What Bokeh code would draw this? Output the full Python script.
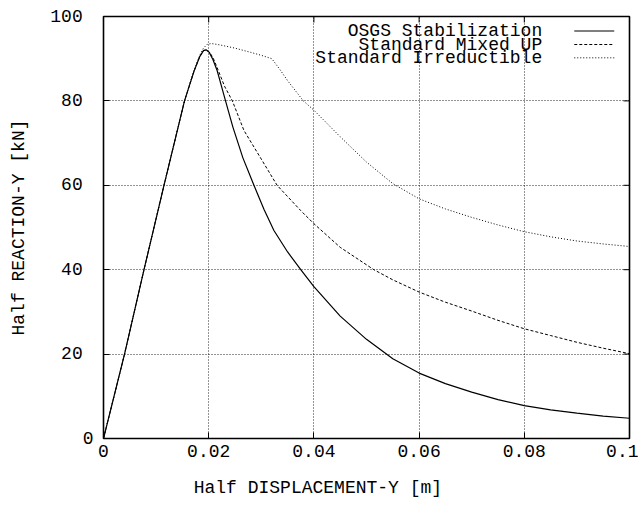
from bokeh.plotting import figure
from bokeh.models import FixedTicker, Label, Range1d
from bokeh.embed import file_html
from bokeh.resources import INLINE

# ---- data ----
osgs_x = [0, 0.004, 0.0077, 0.0115, 0.0154, 0.0172, 0.0183, 0.0190, 0.0195, 0.0201,
          0.0208, 0.0216, 0.0224, 0.0232, 0.0246, 0.0265, 0.0286, 0.0305, 0.0324,
          0.0350, 0.0375, 0.040, 0.045, 0.050, 0.055, 0.060, 0.065, 0.070, 0.075,
          0.080, 0.085, 0.090, 0.095, 0.100]
osgs_y = [0, 20, 40, 60, 80, 87, 90.5, 91.9, 92.1, 91.5,
          89.8, 87.2, 83.6, 80, 73.8, 66.5, 60, 54.3, 49.3,
          44.2, 40, 36, 29, 23.5, 18.9, 15.5, 13, 11, 9.2,
          7.8, 6.8, 6.0, 5.3, 4.8]

mixed_x = [0, 0.004, 0.0077, 0.0115, 0.0154, 0.0172, 0.0183, 0.0190, 0.0195, 0.0201,
           0.0208, 0.0216, 0.0230, 0.0245, 0.0267, 0.030, 0.033, 0.0375, 0.040,
           0.045, 0.0514, 0.055, 0.060, 0.065, 0.070, 0.075, 0.080, 0.085, 0.090,
           0.095, 0.100]
mixed_y = [0, 20, 40, 60, 80, 87, 90.5, 91.9, 92.1, 91.6,
           90.3, 87.9, 83.5, 80, 73, 66.2, 60, 54, 50.9,
           45.3, 40, 37.6, 34.7, 32.3, 30.2, 28, 26, 24.4, 22.8,
           21.4, 20.1]

irred_x = [0, 0.004, 0.0077, 0.0115, 0.0154, 0.0172, 0.0183, 0.0190, 0.0197, 0.0205,
           0.022, 0.025, 0.028, 0.030, 0.032, 0.0335, 0.035, 0.038, 0.040, 0.045,
           0.050, 0.055, 0.060, 0.065, 0.070, 0.075, 0.080, 0.085, 0.090, 0.095, 0.100]
irred_y = [0, 20, 40, 60, 80, 87.3, 90.8, 92.5, 93.4, 93.6,
           93.3, 92.5, 91.5, 90.8, 90, 87.5, 84.8, 80, 77.8, 71.5,
           65.5, 60.4, 56.8, 54.4, 52.4, 50.6, 49, 47.8, 46.8, 46.1, 45.5]

series_names = ["OSGS Stabilization", "Standard Mixed UP", "Standard Irreductible"]

x_ticks = [0, 0.02, 0.04, 0.06, 0.08, 0.1]
x_tick_labels = ["0", "0.02", "0.04", "0.06", "0.08", "0.1"]
y_ticks = [0, 20, 40, 60, 80, 100]
y_tick_labels = ["0", "20", "40", "60", "80", "100"]

x_title = "Half DISPLACEMENT-Y [m]"
y_title = "Half REACTION-Y [kN]"

# ---- styling / layout ----
FONT = "Liberation Mono"
FS = "18px"
NBSP = "\u00a0"
X0, X1, Y0, Y1 = 0, 0.1, 0, 100
FRAME_W, FRAME_H = 526, 422
TICK_PX = 6
XTITLE_PAD = 9   # gnuplot centres the x title ~48px left of the frame centre

p = figure(width=638, height=505, output_backend="svg", toolbar_location=None,
           x_range=Range1d(X0, X1), y_range=Range1d(Y0, Y1),
           min_border_left=103, min_border_right=9, min_border_top=16,
           min_border_bottom=67)
p.background_fill_color = "white"
p.border_fill_color = "white"
p.outline_line_color = "black"
p.outline_line_width = 1.6

# grid
for g in (p.xgrid, p.ygrid):
    g.grid_line_color = "black"
    g.grid_line_dash = "1 2"
    g.grid_line_width = 1
    g.grid_line_alpha = 0.85
p.xgrid.ticker = FixedTicker(ticks=x_ticks)
p.ygrid.ticker = FixedTicker(ticks=y_ticks)

# axes
xa = p.xaxis[0]
xa.ticker = FixedTicker(ticks=x_ticks)
xa.major_label_overrides = {t: s for t, s in zip(x_ticks, x_tick_labels)}
ya = p.yaxis[0]
ya.ticker = FixedTicker(ticks=y_ticks)
ya.major_label_overrides = {t: (s if t == 0 else s + NBSP) for t, s in zip(y_ticks, y_tick_labels)}
for ax in (xa, ya):
    ax.axis_line_color = None
    ax.major_tick_in = TICK_PX
    ax.major_tick_out = 0
    ax.minor_tick_in = 0
    ax.minor_tick_out = 0
    ax.major_tick_line_color = "black"
    ax.major_label_text_font = FONT
    ax.major_label_text_font_size = FS
    ax.major_label_text_color = "black"
    ax.axis_label_text_font = FONT
    ax.axis_label_text_font_size = FS
    ax.axis_label_text_font_style = "normal"
    ax.axis_label_text_color = "black"
xa.major_label_standoff = 6
ya.major_label_standoff = 10

ya.axis_label = y_title
ya.axis_label_standoff = 18
xa.axis_label = x_title + NBSP * XTITLE_PAD
xa.axis_label_standoff = 18

# mirror ticks on top and right borders
dy = (Y1 - Y0) * TICK_PX / FRAME_H
dx = (X1 - X0) * TICK_PX / FRAME_W
p.segment(x0=x_ticks, y0=[Y1] * len(x_ticks), x1=x_ticks, y1=[Y1 - dy] * len(x_ticks),
          line_color="black", line_width=1)
p.segment(x0=[X1] * len(y_ticks), y0=y_ticks, x1=[X1 - dx] * len(y_ticks), y1=y_ticks,
          line_color="black", line_width=1)

# curves
p.line(osgs_x, osgs_y, line_color="black", line_width=1.2)
p.line(mixed_x, mixed_y, line_color="black", line_width=1, line_dash="3 2")
p.line(irred_x, irred_y, line_color="black", line_width=1, line_dash="1 2")

# legend (gnuplot style: text right-aligned, sample on the right)
legend_rows_y = [96.56, 93.36, 90.21]
dashes = ["solid", "3 2", "1 2"]
widths = [1.2, 1, 1]
for name, ly, d, w in zip(series_names, legend_rows_y, dashes, widths):
    p.add_layout(Label(x=0.0834, y=ly, text=name, text_align="right",
                       text_baseline="middle", text_font=FONT, text_font_size=FS,
                       text_color="black"))
    p.line([0.0895, 0.0971], [ly, ly], line_color="black", line_width=w, line_dash=d)

open("out.html", "w").write(file_html(p, INLINE))
